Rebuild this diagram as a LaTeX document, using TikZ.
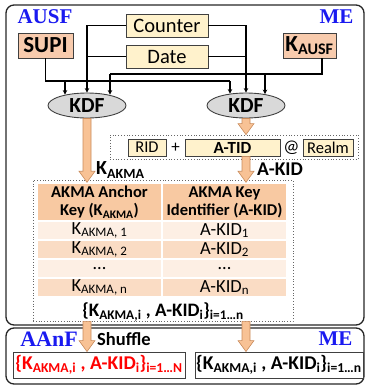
\documentclass[tikz,border=0pt]{standalone}
\usepackage{fontspec}
\setmainfont{Carlito}
\newfontfamily\partyfont{Liberation Serif}
\usetikzlibrary{calc,shapes.geometric,arrows.meta}

\definecolor{boxline}{HTML}{404040}
\definecolor{salmon}{HTML}{F8CBAD}
\definecolor{cream}{HTML}{FFF2CC}
\definecolor{kdfgray}{HTML}{D9D9D9}
\definecolor{fatorange}{HTML}{F8C295}
\definecolor{fatedge}{HTML}{C98B5B}
\definecolor{headfill}{HTML}{F8C9A2}
\definecolor{rowlight}{HTML}{FDEFE4}
\definecolor{rowdark}{HTML}{FADCC4}
\definecolor{partyblue}{HTML}{1A1AF0}

\tikzset{
  party/.style = {font=\partyfont\bfseries\fontsize{21bp}{24bp}\selectfont, text=partyblue, inner sep=0pt},
  frame/.style = {draw=black!85, line width=1.3bp, rounded corners=8bp},
  keybox/.style = {draw=boxline, line width=0.9bp, fill=salmon, inner sep=0pt, font=\bfseries\fontsize{23bp}{26bp}\selectfont},
  inbox/.style = {draw=boxline, line width=0.9bp, fill=cream, inner sep=0pt, minimum width=82bp, minimum height=23bp, font=\fontsize{20.5bp}{24bp}\selectfont},
  kdf/.style = {shape=ellipse, draw=boxline, line width=0.9bp, fill=kdfgray, inner sep=0pt, minimum width=78bp, minimum height=25bp, font=\bfseries\fontsize{21.5bp}{24bp}\selectfont},
  wire/.style = {draw=black, line width=1.1bp},
  tip/.style = {wire, -{Stealth[length=4.5bp,width=4.5bp]}},
  dotframe/.style = {draw=black!60, dotted, line width=0.8bp, inner sep=0pt},
  idbox/.style = {draw=boxline, line width=0.8bp, fill=cream, inner sep=0pt, minimum height=17bp, font=\fontsize{16.5bp}{19bp}\selectfont},
  cell/.style = {draw=white, line width=1.5bp, inner sep=0pt, minimum width=125bp, minimum height=19bp, font=\fontsize{18.5bp}{20bp}\selectfont},
  headcell/.style = {cell, fill=headfill, minimum height=38bp, align=center, font=\bfseries\fontsize{16.5bp}{18bp}\selectfont},
  tag/.style = {inner sep=0pt, anchor=west, font=\bfseries\fontsize{19.5bp}{22bp}\selectfont},
  result/.style = {draw=boxline, line width=0.9bp, fill=white, inner sep=0pt, minimum height=26bp, font=\bfseries\fontsize{19.5bp}{21bp}\selectfont},
}

\newcommand{\fatarrow}[2]{%
  \filldraw[fill=fatorange, draw=fatedge, line width=0.6bp]
    ($(#1)+(-4,0)$) -- ($(#2)+(-4,-11)$) -- ($(#2)+(-8,-11)$) -- (#2)
    -- ($(#2)+(8,-11)$) -- ($(#2)+(4,-11)$) -- ($(#1)+(4,0)$) -- cycle;}

\begin{document}
\begin{tikzpicture}[x=1bp, y=-1bp]
  \useasboundingbox (0,0) rectangle (366,388);

  % the two parties
  \draw[frame] (6,5) rectangle (364,325);
  \draw[frame] (6,328) rectangle (364,384);
  \node[party] (ausf) at (45,16.5) {AUSF};
  \node[party] (meTop) at (336.5,16.5) {ME};
  \node[party, font=\partyfont\bfseries\fontsize{22bp}{24bp}\selectfont] (aanf) at (49,339.5) {AAnF};
  \node[party] (meLow) at (335.5,338.5) {ME};

  % inputs
  \node[keybox, minimum width=55bp, minimum height=25bp] (supi) at (45.5,45.5) {SUPI};
  \node[keybox, minimum width=53bp, minimum height=25bp] (kausf) at (309.5,45.5) {K\textsubscript{AUSF}};
  \node[inbox] (counter) at (167,25.5) {Counter};
  \node[inbox] (date) at (167,56.5) {Date};

  \node[kdf] (kdfL) at (87,105.5) {KDF};
  \node[kdf] (kdfR) at (246,105.5) {KDF};

  % wiring into the KDFs
  \coordinate (supiA) at (65,81);
  \coordinate (supiB) at (230,81);
  \coordinate (kaA) at (110,74);
  \coordinate (kaB) at (265,74);
  \draw[wire] (supi.south) |- (supiB);
  \draw[tip] (supiA) -- ($(kdfL.north)+(-22,2)$);
  \draw[tip] (supiB) -- ($(kdfR.north)+(-16,1)$);
  \draw[tip] (counter.west) -| (kdfL.north);
  \draw[tip] (counter.east) -| (kdfR.north);
  \draw[wire] (date.west) -- (date.west -| kdfL.north);
  \draw[wire] (date.east) -- (date.east -| kdfR.north);
  \draw[wire] ([xshift=12.5bp]kausf.south) |- (kaA);
  \draw[tip] (kaA) -- ($(kdfL.north)+(23,2)$);
  \draw[tip] (kaB) -- ($(kdfR.north)+(19,1.5)$);

  % A-KID = RID + A-TID @ Realm
  \node[dotframe, minimum width=248bp, minimum height=24bp] (kidbox) at (234,147) {};
  \node[idbox, minimum width=38bp] (rid) at (147,147.5) {RID};
  \node[font=\fontsize{17bp}{20bp}\selectfont, inner sep=0pt] (plus) at (175.5,147.5) {+};
  \node[idbox, minimum width=95bp, font=\bfseries\fontsize{17bp}{19bp}\selectfont] (atid) at (232.5,147.5) {A-TID};
  \node[font=\fontsize{18bp}{20bp}\selectfont, inner sep=0pt] (atsign) at (291.5,147.5) {@};
  \node[idbox, minimum width=50bp] (realm) at (328,147.5) {Realm};

  % key table
  \node[dotframe, minimum width=260bp, minimum height=141bp] (tbl) at (163,250.5) {};
  \node[headcell] (hdA) at (99.5,202) {AKMA Anchor\\Key (K\textsubscript{AKMA})};
  \node[headcell] (hdB) at (224.5,202) {AKMA Key\\Identifier (A-KID)};
  \node[cell, fill=rowlight] (r1A) at (99.5,230.5) {K\textsubscript{AKMA, 1}};
  \node[cell, fill=rowlight] (r1B) at (224.5,230.5) {A-KID\textsubscript{1}};
  \node[cell, fill=rowdark] (r2A) at (99.5,249.5) {K\textsubscript{AKMA, 2}};
  \node[cell, fill=rowdark] (r2B) at (224.5,249.5) {A-KID\textsubscript{2}};
  \node[cell, fill=rowlight] (r3A) at (99.5,268.5) {…};
  \node[cell, fill=rowlight] (r3B) at (224.5,268.5) {…};
  \node[cell, fill=rowdark] (r4A) at (99.5,287.5) {K\textsubscript{AKMA, n}};
  \node[cell, fill=rowdark] (r4B) at (224.5,287.5) {A-KID\textsubscript{n}};
  \node[inner sep=0pt, font=\bfseries\fontsize{19bp}{21bp}\selectfont] (pairs) at (163,312)
    {\{K\textsubscript{AKMA,i} , A-KID\textsubscript{i}\}\textsubscript{i=1…n}};

  % derivation arrows
  \fatarrow{kdfL.south}{kdfL.south |- hdA.north}
  \fatarrow{kdfR.south}{kdfR.south |- kidbox.north}
  \fatarrow{kdfR.south |- atid.south}{kdfR.south |- hdB.north}
  \node[tag, font=\bfseries\fontsize{20bp}{22bp}\selectfont] (kakma) at (96,170) {K\textsubscript{AKMA}};
  \node[tag] (akid) at (257,169) {A-KID};

  % handed over
  \node[result, minimum width=172bp, text=red] (lowL) at (99,365)
    {\{K\textsubscript{AKMA,i} , A-KID\textsubscript{i}\}\textsubscript{i=1…N}};
  \node[result, minimum width=168bp] (lowR) at (279,365)
    {\{K\textsubscript{AKMA,i} , A-KID\textsubscript{i}\}\textsubscript{i=1…n}};
  \fatarrow{kdfL.south |- tbl.south}{kdfL.south |- lowL.north}
  \fatarrow{kdfR.south |- tbl.south}{kdfR.south |- lowR.north}
  \node[tag, font=\bfseries\fontsize{18.5bp}{21bp}\selectfont] (shuffle) at (97,339) {Shuffle};
\end{tikzpicture}
\end{document}
